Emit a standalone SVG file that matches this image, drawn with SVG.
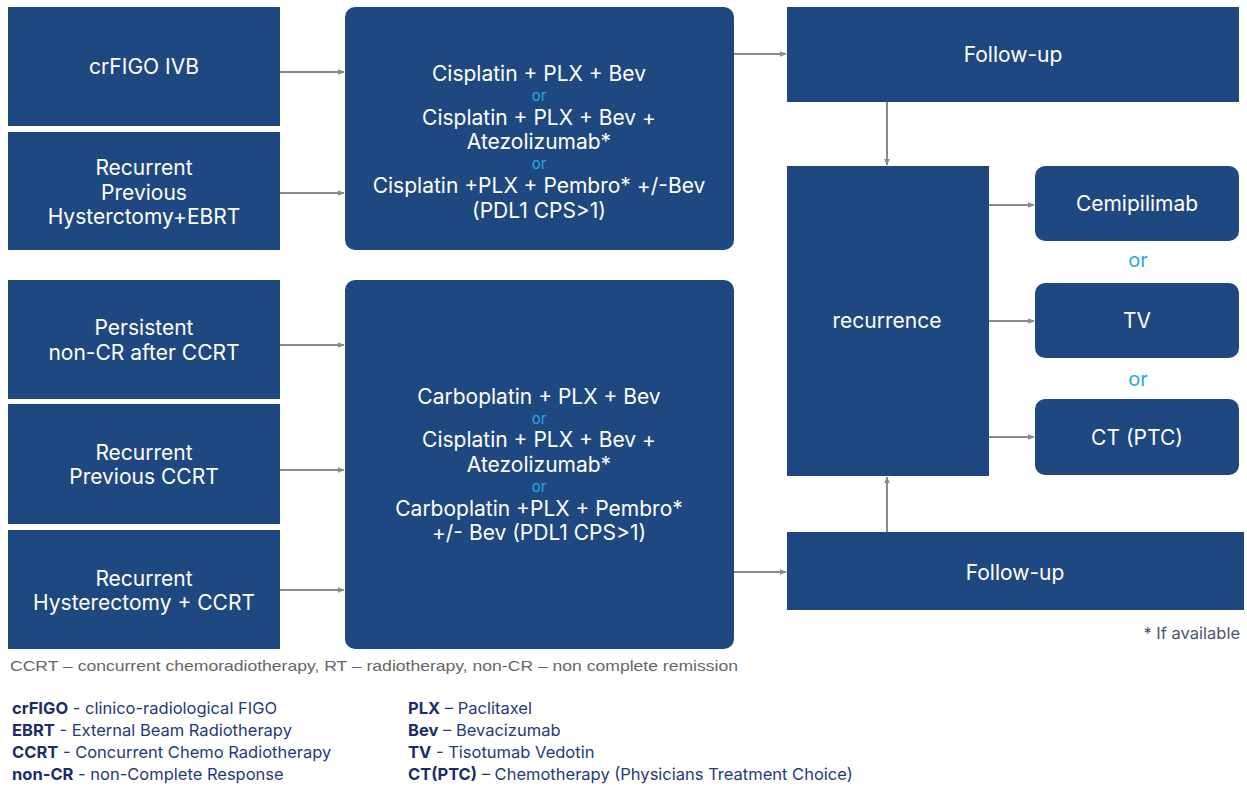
<svg xmlns="http://www.w3.org/2000/svg" width="1247" height="787" viewBox="0 0 1247 787">
<defs>
<marker id="ah" viewBox="0 0 10 10" refX="9" refY="5" markerWidth="7" markerHeight="7" markerUnits="userSpaceOnUse" orient="auto">
<path d="M0,1 L10,5 L0,9 z" fill="#8a8a8a"/>
</marker>
<style>
.box{fill:#1e487f;}
.t{font-family:Inter,"Open Sans","Noto Sans",sans-serif;font-size:21px;fill:#ffffff;text-anchor:middle;dominant-baseline:central;}
.or{font-family:Inter,"Open Sans",sans-serif;font-size:15px;fill:#29a9e1;text-anchor:middle;dominant-baseline:central;}
.or2{font-family:Inter,"Open Sans",sans-serif;font-size:20px;fill:#29a9e1;text-anchor:middle;dominant-baseline:central;}
.c{stroke:#8a8a8a;stroke-width:2;fill:none;marker-end:url(#ah);}
.note{font-family:Inter,"Open Sans",sans-serif;font-size:16.5px;fill:#4a5470;}
.foot{font-family:"Liberation Sans Narrow","Liberation Sans",sans-serif;font-size:15px;fill:#666666;}
.lg{font-family:Inter,"Open Sans",sans-serif;font-size:16.5px;fill:#1f3a78;}
.b{font-weight:bold;fill:#1b2d66;}
</style>
</defs>
<rect width="1247" height="787" fill="#ffffff"/>

<g id="connectors">
<line class="c" x1="280" y1="72" x2="344" y2="72"/>
<line class="c" x1="280" y1="193" x2="344" y2="193"/>
<line class="c" x1="280" y1="345" x2="344" y2="345"/>
<line class="c" x1="280" y1="470" x2="344" y2="470"/>
<line class="c" x1="280" y1="590" x2="344" y2="590"/>
<line class="c" x1="734" y1="54" x2="786" y2="54"/>
<line class="c" x1="887" y1="101" x2="887" y2="165"/>
<line class="c" x1="989" y1="205" x2="1034" y2="205"/>
<line class="c" x1="989" y1="321" x2="1034" y2="321"/>
<line class="c" x1="989" y1="437" x2="1034" y2="437"/>
<line class="c" x1="734" y1="572" x2="786" y2="572"/>
<line class="c" x1="887" y1="532" x2="887" y2="477"/>
</g>

<g id="n1"><rect class="box" x="8" y="7" width="272" height="119"/><text class="t" x="144" y="66">crFIGO IVB</text></g>
<g id="n2"><rect class="box" x="8" y="132" width="272" height="118"/>
<text class="t" x="144" y="167">Recurrent</text><text class="t" x="144" y="192">Previous</text><text class="t" x="144" y="216">Hysterctomy+EBRT</text></g>
<g id="n3"><rect class="box" x="8" y="280" width="272" height="119"/>
<text class="t" x="144" y="327">Persistent</text><text class="t" x="144" y="352">non-CR after CCRT</text></g>
<g id="n4"><rect class="box" x="8" y="404" width="272" height="120"/>
<text class="t" x="144" y="452">Recurrent</text><text class="t" x="144" y="476">Previous CCRT</text></g>
<g id="n5"><rect class="box" x="8" y="530" width="272" height="119"/>
<text class="t" x="144" y="578">Recurrent</text><text class="t" x="144" y="602">Hysterectomy + CCRT</text></g>

<g id="m1"><rect class="box" x="345" y="7" width="389" height="243" rx="10"/>
<text class="t" x="539" y="73">Cisplatin + PLX + Bev</text>
<text class="or" x="539" y="95">or</text>
<text class="t" x="539" y="117">Cisplatin + PLX + Bev +</text>
<text class="t" x="539" y="141">Atezolizumab*</text>
<text class="or" x="539" y="163">or</text>
<text class="t" x="539" y="185">Cisplatin +PLX + Pembro* +/-Bev</text>
<text class="t" x="539" y="210">(PDL1 CPS&gt;1)</text></g>

<g id="m2"><rect class="box" x="345" y="280" width="389" height="369" rx="10"/>
<text class="t" x="539" y="396">Carboplatin + PLX + Bev</text>
<text class="or" x="539" y="418">or</text>
<text class="t" x="539" y="439">Cisplatin + PLX + Bev +</text>
<text class="t" x="539" y="464">Atezolizumab*</text>
<text class="or" x="539" y="486">or</text>
<text class="t" x="539" y="508">Carboplatin +PLX + Pembro*</text>
<text class="t" x="539" y="532">+/- Bev (PDL1 CPS&gt;1)</text></g>

<g id="f1"><rect class="box" x="787" y="7" width="452" height="95"/><text class="t" x="1013" y="54">Follow-up</text></g>
<g id="rec"><rect class="box" x="787" y="166" width="202" height="310"/><text class="t" x="887" y="320">recurrence</text></g>
<g id="cemi"><rect class="box" x="1035" y="166" width="204" height="75" rx="10"/><text class="t" x="1137" y="203">Cemipilimab</text></g>
<text class="or2" x="1138" y="260">or</text>
<g id="tv"><rect class="box" x="1035" y="283" width="204" height="75" rx="10"/><text class="t" x="1137" y="320">TV</text></g>
<text class="or2" x="1138" y="379">or</text>
<g id="ct"><rect class="box" x="1035" y="399" width="204" height="76" rx="10"/><text class="t" x="1137" y="437">CT (PTC)</text></g>
<g id="f2"><rect class="box" x="787" y="532" width="457" height="78"/><text class="t" x="1015" y="572">Follow-up</text></g>

<text class="note" x="1240" y="639" text-anchor="end">* If available</text>
<text class="foot" x="10" y="671" textLength="728" lengthAdjust="spacingAndGlyphs">CCRT – concurrent chemoradiotherapy, RT – radiotherapy, non-CR – non complete remission</text>

<g id="legend">
<text class="lg" x="12" y="714"><tspan class="b">crFIGO</tspan> - clinico-radiological FIGO</text>
<text class="lg" x="12" y="736"><tspan class="b">EBRT</tspan> - External Beam Radiotherapy</text>
<text class="lg" x="12" y="758"><tspan class="b">CCRT</tspan> - Concurrent Chemo Radiotherapy</text>
<text class="lg" x="12" y="780"><tspan class="b">non-CR</tspan> - non-Complete Response</text>
<text class="lg" x="408" y="714"><tspan class="b">PLX</tspan> – Paclitaxel</text>
<text class="lg" x="408" y="736"><tspan class="b">Bev</tspan> – Bevacizumab</text>
<text class="lg" x="408" y="758"><tspan class="b">TV</tspan> - Tisotumab Vedotin</text>
<text class="lg" x="408" y="780"><tspan class="b">CT(PTC)</tspan> – Chemotherapy (Physicians Treatment Choice)</text>
</g>
</svg>
